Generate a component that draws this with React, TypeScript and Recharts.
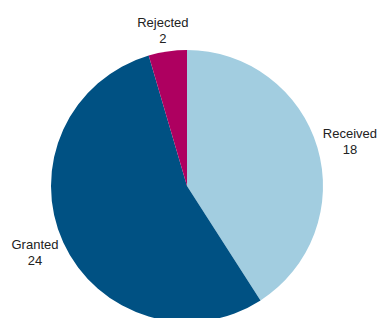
import { PieChart, Pie, Cell } from "recharts";

const names = ["Received", "Granted", "Rejected"];
const counts = [18, 24, 2];
const colors = ["#A2CDE0", "#005183", "#AE0060"];

const data = names.map((name, i) => ({ name, value: counts[i] }));

const RAD = Math.PI / 180;
const FONT = 13;
const LINE = 16;

function renderLabel(props: any) {
  const { cx, cy, outerRadius, midAngle, name, value } = props;
  const cos = Math.cos(-midAngle * RAD);
  const sin = Math.sin(-midAngle * RAD);
  const r = outerRadius + 12;
  const halfW = (name.length * FONT * 0.42) / 2;
  const halfH = 10;
  const x = cx + r * cos + cos * halfW;
  const y = cy + r * sin + sin * halfH;
  return (
    <text
      x={x}
      y={y}
      textAnchor="middle"
      fill="#222"
      fontSize={FONT}
      fontFamily="'Liberation Sans', Arial, sans-serif"
    >
      <tspan x={x} dy={-3}>{name}</tspan>
      <tspan x={x} dy={LINE}>{value}</tspan>
    </text>
  );
}

export default function App() {
  return (
    <div style={{ position: "absolute", left: 0, top: 0, width: 379, height: 318, background: "#fff", overflow: "hidden" }}>
      <PieChart width={379} height={318} margin={{ top: 0, right: 0, bottom: 0, left: 0 }}>
        <Pie
          data={data}
          dataKey="value"
          nameKey="name"
          cx={187}
          cy={186}
          outerRadius={136}
          startAngle={90}
          endAngle={-270}
          stroke="none"
          label={renderLabel}
          labelLine={false}
          isAnimationActive={false}
        >
          {data.map((d, i) => (
            <Cell key={d.name} fill={colors[i]} />
          ))}
        </Pie>
      </PieChart>
    </div>
  );
}
